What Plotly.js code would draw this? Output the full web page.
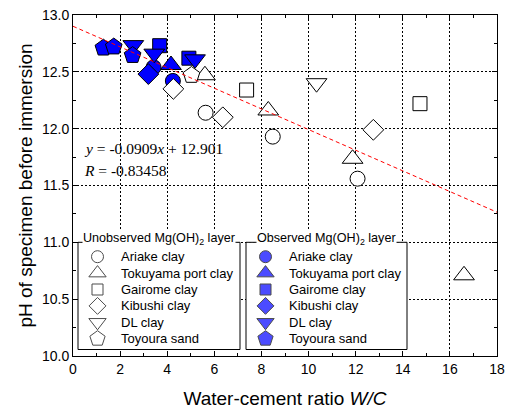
<!DOCTYPE html>
<html>
<head>
<meta charset="utf-8">
<script src="https://cdn.plot.ly/plotly-3.0.1.min.js"></script>
<style>html,body{margin:0;padding:0;background:#fff;}#chart{width:507px;height:409px;}</style>
</head>
<body>
<div id="chart"></div>
<script>
// ---- data ----
const soilNames = ["Ariake clay", "Tokuyama port clay", "Gairome clay", "Kibushi clay", "DL clay", "Toyoura sand"];
// Unobserved Mg(OH)2 layer (open markers)
const unobsWC = [[5.63, 8.48, 12.08], [5.60, 8.29, 11.87, 16.60], [7.37, 14.73], [4.26, 6.36, 12.75], [10.34], [5.03]];
const unobsPH = [[12.14, 11.93, 11.56], [12.47, 12.16, 11.735, 10.71], [12.34, 12.22], [12.35, 12.10, 11.99], [12.40], [12.47]];
// Observed Mg(OH)2 layer (filled markers)
const obsWC = [[3.42, 4.24], [4.16], [3.68, 4.92], [3.20], [2.56, 3.45, 5.18], [1.29, 1.73, 2.53]];
const obsPH = [[12.54, 12.42], [12.56], [12.73, 12.62], [12.48], [12.735, 12.66, 12.61], [12.71, 12.72, 12.645]];
// regression line y = -0.0909x + 12.901
const fitWC = [0, 18];
const fitPH = [12.901, 11.265];
const eqText = ["<i>y</i> = -0.0909<i>x</i> + 12.901", "<i>R</i> = -0.83458"];
const groupTitles = ["Unobserved Mg(OH)<sub>2</sub> layer", "Observed Mg(OH)<sub>2</sub> layer"];
const xTitle = "Water-cement ratio <i>W/C</i>";
const yTitle = "pH of specimen before immersion";

// ---- styles ----
const symbols = ["circle", "triangle-up", "square", "diamond", "triangle-down", "pentagon"];
const symSize = [15, 18, 14, 16, 18, 17.5];
const legSize = [12, 15, 11, 13, 15, 16];
const BLUE = "#0000FF";
const SANS = "Liberation Sans, Arial, sans-serif";
const SERIF = "Liberation Serif, Times New Roman, serif";

// plot area in px: left 73, right 497, top 15, bottom 356
const W = 424, H = 341;

const traces = [];
// observed (filled) first, then unobserved (open)
soilNames.forEach((n, i) => {
  traces.push({
    type: "scatter", mode: "markers", x: obsWC[i], y: obsPH[i], name: n,
    showlegend: false, hoverinfo: "skip",
    marker: {symbol: symbols[i], size: symSize[i], color: BLUE, line: {color: "black", width: 1}}
  });
});
soilNames.forEach((n, i) => {
  traces.push({
    type: "scatter", mode: "markers", x: unobsWC[i], y: unobsPH[i], name: n,
    showlegend: false, hoverinfo: "skip",
    marker: {symbol: symbols[i], size: symSize[i], color: "white", line: {color: "black", width: 1}}
  });
});
traces.push({
  type: "scatter", mode: "lines", x: fitWC, y: fitPH, showlegend: false, hoverinfo: "skip",
  line: {color: "#FF0000", width: 1, dash: "4px,3px"}, cliponaxis: true
});

// ---- hand-built legend panels on an overlay pixel axis ----
const boxes = [{x0: 5, x1: 167}, {x0: 173, x1: 334}];
const boxY0 = 6.5, boxY1 = 113.7;
const rowTop = 99.3, rowGap = 16.4;
const rowsY = soilNames.map((_, k) => rowTop - k * rowGap);
const annotations = [];
boxes.forEach((b, gi) => {
  traces.push({
    type: "scatter", mode: "lines", xaxis: "x2", yaxis: "y2",
    x: [b.x0, b.x1, b.x1, b.x0, b.x0], y: [boxY0, boxY0, boxY1, boxY1, boxY0],
    fill: "toself", fillcolor: "white", line: {color: "black", width: 1},
    showlegend: false, hoverinfo: "skip"
  });
  traces.push({
    type: "scatter", mode: "markers", xaxis: "x2", yaxis: "y2",
    x: soilNames.map(() => b.x0 + 19.5), y: rowsY,
    marker: {symbol: symbols, size: legSize, color: gi === 0 ? "white" : BLUE, line: {color: "black", width: 1}},
    showlegend: false, hoverinfo: "skip"
  });
  soilNames.forEach((n, k) => {
    annotations.push({xref: "x2", yref: "y2", x: b.x0 + 41, y: rowsY[k], xanchor: "left", yanchor: "middle",
      text: n, showarrow: false, font: {family: SANS, size: 13, color: "black"}});
  });
  annotations.push({xref: "x2", yref: "y2", x: (b.x0 + b.x1) / 2, y: boxY1, xanchor: "center", yanchor: "middle",
    yshift: 3, text: groupTitles[gi], showarrow: false, bgcolor: "white", borderpad: 0,
    font: {family: SANS, size: 12.6, color: "black"}});
});

annotations.push({xref: "paper", yref: "paper", x: 9 / W, y: (356 - 148) / H, xanchor: "left", yanchor: "middle",
  text: eqText[0], showarrow: false, font: {family: SERIF, size: 15.5, color: "black"}});
annotations.push({xref: "paper", yref: "paper", x: 9 / W, y: (356 - 170) / H, xanchor: "left", yanchor: "middle",
  text: eqText[1], showarrow: false, font: {family: SERIF, size: 15.5, color: "black"}});

const axCommon = {
  showline: true, linecolor: "black", linewidth: 1, mirror: "ticks",
  ticks: "inside", ticklen: 5, tickwidth: 1, tickcolor: "black",
  showgrid: true, gridcolor: "black", gridwidth: 1, griddash: "2px,2px",
  zeroline: false, tickfont: {family: SANS, size: 14, color: "black"},
  fixedrange: true
};

const layout = {
  width: 507, height: 409,
  margin: {l: 73, r: 10, t: 15, b: 53},
  paper_bgcolor: "white", plot_bgcolor: "white",
  showlegend: false,
  xaxis: Object.assign({}, axCommon, {
    range: [0, 18], tick0: 0, dtick: 2,
    minor: {dtick: 1, ticks: "inside", ticklen: 3, tickcolor: "black", showgrid: false},
    title: {text: xTitle, font: {family: SANS, size: 19, color: "black"}, standoff: 20}
  }),
  yaxis: Object.assign({}, axCommon, {
    range: [10, 13], tick0: 10, dtick: 0.5, tickformat: ".1f",
    minor: {dtick: 0.25, ticks: "inside", ticklen: 3, tickcolor: "black", showgrid: false},
    title: {text: yTitle, font: {family: SANS, size: 19, color: "black"}, standoff: 4}
  }),
  xaxis2: {overlaying: "x", anchor: "y2", range: [0, W], visible: false, fixedrange: true},
  yaxis2: {overlaying: "y", anchor: "x2", range: [0, H], visible: false, fixedrange: true},
  annotations: annotations
};

Plotly.newPlot("chart", traces, layout, {staticPlot: true, displayModeBar: false});
</script>
</body>
</html>
